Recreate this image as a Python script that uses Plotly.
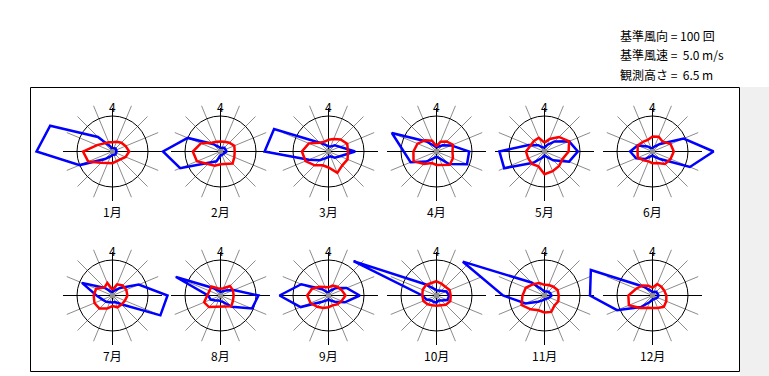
import numpy as np
import plotly.graph_objects as go

# ---------------- data ----------------
directions = ["N", "NNE", "NE", "ENE", "E", "ESE", "SE", "SSE",
              "S", "SSW", "SW", "WSW", "W", "WNW", "NW", "NNW"]
dir_deg = [0, 22.5, 45, 67.5, 90, 112.5, 135, 157.5,
           180, 202.5, 225, 247.5, 270, 292.5, 315, 337.5]
months = ["1月", "2月", "3月", "4月", "5月", "6月",
          "7月", "8月", "9月", "10月", "11月", "12月"]
north_label = "4"

ref_count = 100      # 基準風向 (回)
ref_speed = 5.0      # 基準風速 (m/s)
obs_height = 6.5     # 観測高さ (m)

# wind direction frequency (回), 16 directions N..NNW
freq_01 = [5, 10, 12, 12, 12, 10, 12, 10, 10, 15, 30, 100, 214, 190, 58, 15]
freq_02 = [10, 12, 15, 15, 17, 12, 10, 10, 12, 30, 45, 123, 162, 100, 30, 15]
freq_03 = [15, 15, 25, 35, 75, 35, 25, 15, 15, 20, 35, 60, 180, 166, 35, 20]
freq_04 = [12, 15, 25, 45, 92, 93, 50, 20, 15, 20, 40, 79, 93, 136, 40, 15]
freq_05 = [12, 20, 40, 75, 94, 75, 35, 15, 12, 20, 45, 123, 127, 48, 25, 12]
freq_06 = [10, 15, 30, 95, 172, 114, 30, 15, 12, 15, 30, 50, 63, 45, 20, 10]
freq_07 = [10, 15, 30, 80, 155, 146, 35, 20, 20, 20, 25, 30, 45, 93, 30, 12]
freq_08 = [10, 12, 20, 40, 107, 96, 45, 20, 15, 15, 20, 30, 35, 136, 30, 12]
freq_09 = [10, 15, 30, 55, 88, 50, 25, 15, 12, 15, 25, 85, 138, 83, 25, 10]
freq_10 = [15, 15, 20, 30, 36, 33, 20, 15, 20, 20, 20, 30, 40, 253, 45, 20]
freq_11 = [12, 12, 15, 17, 20, 15, 12, 10, 12, 15, 25, 58, 117, 249, 52, 20]
freq_12 = [10, 12, 15, 15, 17, 15, 12, 10, 12, 20, 46, 108, 176, 188, 35, 15]

# mean wind speed (m/s), 16 directions N..NNW
speed_01 = [1.3, 1.5, 1.75, 2.0, 2.35, 2.0, 1.55, 1.5, 1.65, 1.75, 2.25, 3.7, 4.15, 2.35, 1.6, 1.4]
speed_02 = [1.4, 1.5, 1.75, 2.1, 2.0, 2.1, 2.4, 1.9, 1.8, 2.15, 2.5, 3.6, 3.9, 3.0, 1.75, 1.5]
speed_03 = [1.65, 1.9, 2.4, 2.85, 2.75, 2.9, 2.75, 3.25, 2.25, 2.1, 2.75, 3.5, 3.75, 3.0, 1.75, 1.5]
speed_04 = [0.75, 1.5, 2.0, 2.5, 2.25, 2.5, 2.65, 2.1, 1.9, 1.75, 2.5, 3.5, 3.25, 2.9, 2.25, 1.65]
speed_05 = [1.25, 1.9, 2.9, 3.75, 3.4, 2.75, 2.9, 3.0, 3.2, 2.25, 2.5, 2.5, 2.6, 2.1, 2.1, 2.1]
speed_06 = [2.1, 2.25, 2.0, 2.75, 3.0, 2.75, 2.5, 1.75, 1.65, 1.5, 1.75, 2.25, 2.1, 2.25, 1.9, 1.75]
speed_07 = [0.8, 1.7, 2.0, 2.1, 2.1, 1.9, 1.8, 1.8, 1.5, 2.0, 2.6, 2.75, 2.65, 2.5, 1.6, 1.9]
speed_08 = [0.95, 1.1, 1.9, 1.9, 1.85, 1.9, 2.15, 1.7, 1.6, 1.8, 2.3, 2.5, 1.9, 1.75, 1.8, 1.1]
speed_09 = [1.15, 1.5, 1.75, 2.0, 2.4, 2.0, 1.75, 1.5, 1.65, 1.9, 2.25, 2.75, 3.0, 2.5, 1.75, 1.25]
speed_10 = [2.0, 1.8, 1.75, 2.0, 2.0, 2.1, 1.85, 1.5, 1.45, 1.5, 1.75, 2.0, 2.0, 2.1, 2.1, 1.9]
speed_11 = [1.5, 1.6, 1.75, 2.0, 2.0, 2.1, 2.0, 2.5, 2.4, 2.25, 2.75, 3.5, 3.1, 2.85, 2.25, 1.9]
speed_12 = [1.1, 1.75, 1.75, 1.8, 1.95, 2.1, 2.25, 1.9, 1.75, 1.85, 2.5, 3.6, 3.4, 2.5, 2.0, 1.5]

freqs = [freq_01, freq_02, freq_03, freq_04, freq_05, freq_06,
         freq_07, freq_08, freq_09, freq_10, freq_11, freq_12]
speeds = [speed_01, speed_02, speed_03, speed_04, speed_05, speed_06,
          speed_07, speed_08, speed_09, speed_10, speed_11, speed_12]

# ---------------- layout geometry (pixels) ----------------
W, H = 769, 376
CX0, DXC = 112.5, 107.9
CY = [151.5, 295.5]
R = 35.5          # radius of reference circle
SPOKE = 49.5      # length of spokes / cross

theta = np.radians(np.array(dir_deg + [dir_deg[0]]))

fig = go.Figure()
shapes = []
annotations = []

# background strip and frame
shapes.append(dict(type="rect", xref="x", yref="y", x0=740, x1=W, y0=87, y1=H,
                   fillcolor="#F0F0F0", line=dict(width=0), layer="below"))
shapes.append(dict(type="rect", xref="x", yref="y", x0=30.5, x1=739.5, y0=87.5, y1=371.5,
                   line=dict(color="black", width=1), fillcolor="rgba(0,0,0,0)", layer="below"))

for i, m in enumerate(months):
    cx = round(CX0 + DXC * (i % 6)) + 0.5
    cy = CY[i // 6]
    # spokes
    for d in dir_deg:
        if d % 90 == 0:
            continue
        a = np.radians(d)
        shapes.append(dict(type="line", xref="x", yref="y", x0=cx, y0=cy,
                           x1=cx + SPOKE * np.sin(a), y1=cy - SPOKE * np.cos(a),
                           line=dict(color="#8C8C8C", width=1), layer="below"))
    # cross
    shapes.append(dict(type="line", xref="x", yref="y", x0=cx - SPOKE, x1=cx + SPOKE, y0=cy, y1=cy,
                       line=dict(color="black", width=1), layer="below"))
    shapes.append(dict(type="line", xref="x", yref="y", x0=cx, x1=cx, y0=cy - SPOKE + 6, y1=cy + SPOKE,
                       line=dict(color="black", width=1), layer="below"))
    # reference circle
    shapes.append(dict(type="circle", xref="x", yref="y", x0=cx - R, x1=cx + R, y0=cy - R, y1=cy + R,
                       line=dict(color="black", width=1), layer="below"))

    f = np.array(freqs[i] + [freqs[i][0]], dtype=float) / ref_count * R
    s = np.array(speeds[i] + [speeds[i][0]], dtype=float) / ref_speed * R

    fig.add_trace(go.Scatter(x=cx + f * np.sin(theta), y=cy - f * np.cos(theta),
                             mode="lines", line=dict(color="#0000FF", width=2.5),
                             hoverinfo="skip", showlegend=False))
    fig.add_trace(go.Scatter(x=cx + s * np.sin(theta), y=cy - s * np.cos(theta),
                             mode="lines", line=dict(color="#FF0000", width=2.5),
                             hoverinfo="skip", showlegend=False))
    fig.add_trace(go.Scatter(x=[cx], y=[cy], mode="markers",
                             marker=dict(color="#909090", size=5),
                             hoverinfo="skip", showlegend=False))

    annotations.append(dict(x=cx, y=cy - 45, xref="x", yref="y", text=north_label,
                            showarrow=False, font=dict(size=12, color="black",
                                                       family="Noto Sans CJK JP")))
    annotations.append(dict(x=cx, y=cy + 60, xref="x", yref="y", text=m,
                            showarrow=False, font=dict(size=12, color="black",
                                                       family="Noto Sans CJK JP")))

info_lines = [
    f"基準風向 = {ref_count} 回",
    f"基準風速 = \u00a0{ref_speed:.1f} m/s",
    f"観測高さ = \u00a0{obs_height:.1f} m",
]
for k, t in enumerate(info_lines):
    annotations.append(dict(x=618, y=35 + 19.5 * k, xref="x", yref="y", text=t,
                            xanchor="left", showarrow=False,
                            font=dict(size=12, color="black", family="Noto Sans CJK JP")))

fig.update_layout(
    width=W, height=H,
    margin=dict(l=0, r=0, t=0, b=0),
    paper_bgcolor="white", plot_bgcolor="white",
    xaxis=dict(range=[0, W], visible=False, fixedrange=True),
    yaxis=dict(range=[H, 0], visible=False, fixedrange=True),
    shapes=shapes, annotations=annotations,
)

fig.write_html("out.html", include_plotlyjs=True, config={"displayModeBar": False},
               post_script="document.body.style.margin='0';document.body.style.overflow='hidden';")
